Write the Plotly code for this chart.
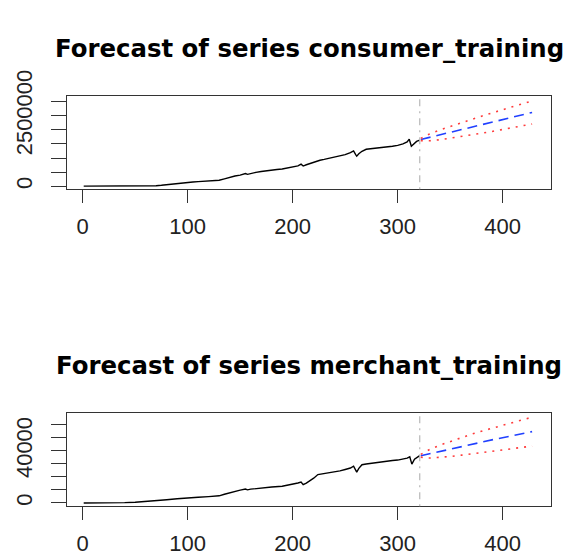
import plotly.graph_objects as go

# ---- consumer_training: observed series (index, value) ----
cons_x = [1, 10, 20, 30, 40, 50, 60, 70, 75, 80, 85, 90, 95, 100, 103, 105, 110, 115, 120, 125,
          130, 135, 140, 145, 150, 155, 157, 160, 165, 170, 175, 180, 185, 190, 195, 200, 205,
          208, 210, 213, 218, 222, 226, 230, 235, 240, 245, 250, 255, 258, 260, 261, 263, 266,
          270, 275, 280, 285, 290, 295, 300, 305, 309, 311, 313, 315, 318, 321]
cons_y = [0, 0, 0, 0, 0, 0, 5000, 15000, 30000, 50000, 70000, 90000, 110000, 140000, 160000,
          145000, 160000, 170000, 180000, 190000, 210000, 260000, 320000, 360000, 390000,
          450000, 420000, 450000, 490000, 520000, 550000, 570000, 590000, 610000, 640000,
          670000, 720000, 780000, 715000, 760000, 830000, 880000, 920000, 950000, 990000,
          1030000, 1080000, 1120000, 1190000, 1255000, 1120000, 1065000, 1150000, 1240000,
          1310000, 1330000, 1340000, 1360000, 1390000, 1420000, 1450000, 1500000, 1570000,
          1670000, 1420000, 1500000, 1590000, 1640000]

# ---- consumer_training: forecast and interval ----
cons_fx = [322, 326, 331, 341, 351, 361, 371, 381, 391, 401, 411, 421, 428]
cons_fcst = [1659000, 1695000, 1741000, 1831000, 1922000, 2013000, 2104000, 2194000,
             2285000, 2376000, 2467000, 2557000, 2620000]
cons_upper = [1699000, 1784000, 1867000, 2009000, 2139000, 2264000, 2385000, 2501000,
              2617000, 2731000, 2844000, 2954000, 3030000]
cons_lower = [1619000, 1606000, 1615000, 1653000, 1705000, 1762000, 1823000, 1887000,
              1953000, 2021000, 2090000, 2160000, 2210000]

# ---- merchant_training: observed series ----
merc_x = [1, 10, 20, 30, 40, 50, 60, 70, 80, 90, 100, 103, 105, 110, 120, 130, 135, 140, 145,
          150, 155, 157, 160, 170, 180, 190, 195, 200, 205, 208, 210, 213, 217, 220, 224, 230,
          235, 240, 245, 250, 255, 258, 260, 261, 263, 266, 270, 275, 280, 285, 290, 295, 300,
          305, 309, 311.5, 313.5, 316, 319, 321]
merc_y = [0, 0, 0, 100, 300, 600, 1100, 1800, 2500, 3200, 4000, 4400, 4100, 4400, 4900, 5500,
          6700, 7900, 8900, 9900, 10700, 10100, 10600, 11600, 12200, 12800, 13500, 14500,
          15300, 16000, 14000, 15200, 17000, 19000, 21800, 22500, 23200, 23800, 24600, 25700,
          26800, 28200, 24200, 23700, 26500, 29300, 29900, 30500, 31000, 31700, 32200, 32600,
          32900, 33600, 34400, 35400, 29800, 33500, 35600, 36300]

# ---- merchant_training: forecast and interval ----
merc_fx = [322, 326, 331, 341, 351, 361, 371, 381, 391, 401, 411, 421, 428]
merc_fcst = [36190, 36930, 37860, 39730, 41590, 43450, 45310, 46960, 48600, 50240, 51890,
             53530, 54700]
merc_upper = [37260, 39330, 41250, 44530, 47470, 50240, 52900, 55270, 57580, 59840, 62070,
              64260, 65800]
merc_lower = [35120, 34530, 34470, 34930, 35710, 36660, 37720, 38650, 39620, 40640, 41710,
              42800, 43600]

n_obs = 321
x_ticks = [0, 100, 200, 300, 400]
cons_ticks = [0, 500000, 1000000, 1500000, 2000000, 2500000, 3000000]
cons_ticktext = ["0", "", "", "", "", "2500000", ""]
merc_ticks = [0, 10000, 20000, 30000, 40000, 50000, 60000]
merc_ticktext = ["0", "", "", "", "40000", "", ""]

titles = ["Forecast of series consumer_training", "Forecast of series merchant_training"]

W, H = 563, 556
FONT = "Liberation Sans, Arial, sans-serif"
AX = "#333333"

fig = go.Figure()

panels = [
    (cons_x, cons_y, cons_fx, cons_fcst, cons_upper, cons_lower, "x", "y"),
    (merc_x, merc_y, merc_fx, merc_fcst, merc_upper, merc_lower, "x2", "y2"),
]
for ox, oy, fx, fc, up, lo, xa, ya in panels:
    fig.add_trace(go.Scatter(x=ox, y=oy, mode="lines", xaxis=xa, yaxis=ya,
                             line=dict(color="black", width=1.4), showlegend=False))
    fig.add_trace(go.Scatter(x=fx, y=fc, mode="lines", xaxis=xa, yaxis=ya,
                             line=dict(color="#2040ff", width=1.6, dash="10px,6px"),
                             showlegend=False))
    for band in (up, lo):
        fig.add_trace(go.Scatter(x=fx, y=band, mode="lines", xaxis=xa, yaxis=ya,
                                 line=dict(color="#ff3b3b", width=1.6, dash="2px,6px"),
                                 showlegend=False))
    # end-of-sample marker
    fig.add_shape(type="line", xref=xa, yref=ya + " domain", x0=n_obs, x1=n_obs, y0=0, y1=1,
                  line=dict(color="#b8b8b8", width=1.2, dash="2px,5px,7px,5px"))

xdom = [66.7 / W, 551 / W]
common_x = dict(range=[-15.2, 446], tickvals=x_ticks, ticks="outside", ticklen=13,
                tickcolor=AX, tickwidth=1.2, showline=True, mirror=True, linecolor=AX,
                linewidth=1.2, showgrid=False, zeroline=False,
                tickfont=dict(family=FONT, size=22, color="#222"), ticklabelstandoff=4)
common_y = dict(ticks="outside", ticklen=15, tickcolor=AX, tickwidth=1.2, showline=True,
                mirror=True, linecolor=AX, linewidth=1.2, showgrid=False, zeroline=False,
                tickangle=-90, tickfont=dict(family=FONT, size=22, color="#222"),
                ticklabelstandoff=10)

fig.update_layout(
    width=W, height=H, margin=dict(l=0, r=0, t=0, b=0),
    paper_bgcolor="white", plot_bgcolor="white",
    xaxis=dict(domain=xdom, anchor="y", **common_x),
    yaxis=dict(domain=[1 - 173.3 / H, 1 - 75 / H], anchor="x", range=[-111000, 3202000],
               tickvals=cons_ticks, ticktext=cons_ticktext, **common_y),
    xaxis2=dict(domain=xdom, anchor="y2", **common_x),
    yaxis2=dict(domain=[1 - 507.7 / H, 1 - 409.3 / H], anchor="x2", range=[-2470, 69000],
                tickvals=merc_ticks, ticktext=merc_ticktext, **common_y),
)

title_font = dict(family="DejaVu Sans", size=24.4, color="black", weight="bold")
for t, ypx in zip(titles, [25, 359.5]):
    fig.add_annotation(text=t, xref="paper", yref="paper", x=309 / W, y=1 - ypx / H,
                       xanchor="center", yanchor="middle", showarrow=False, font=title_font)

fig.write_html("out.html")
